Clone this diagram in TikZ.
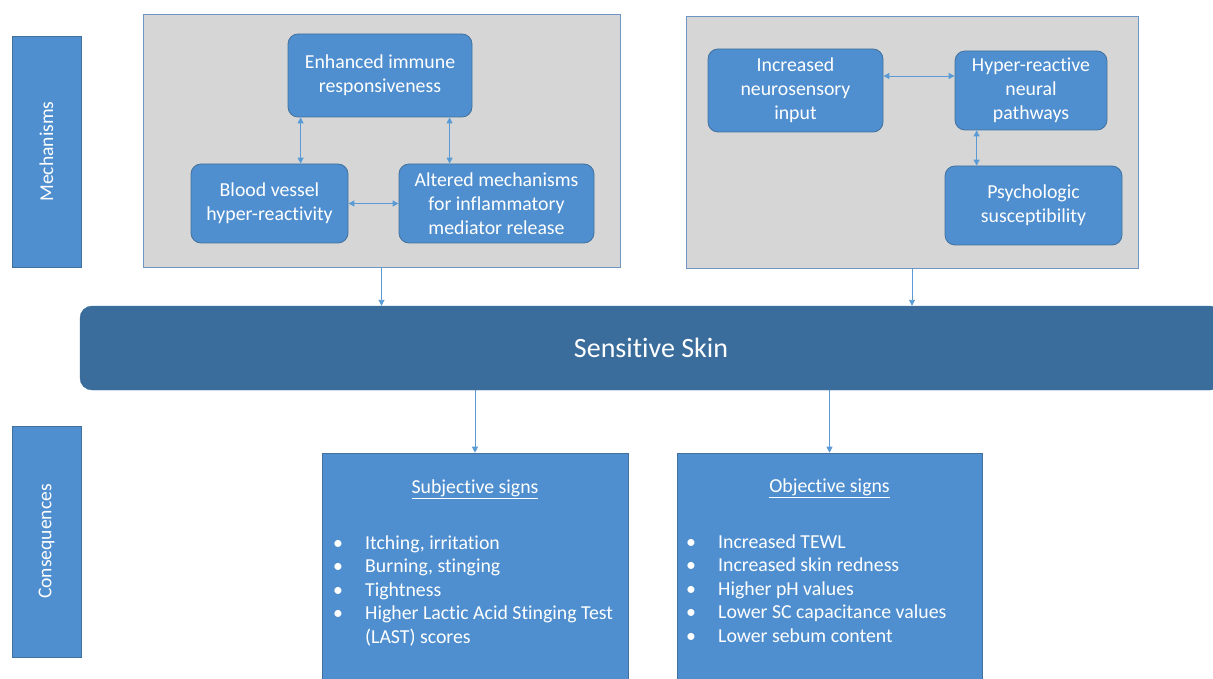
\documentclass[tikz,border=0pt]{standalone}
\usepackage{fontspec}
\setmainfont{Carlito}[Ligatures={NoCommon}]
\usetikzlibrary{arrows.meta,calc}
\definecolor{boxblue}{HTML}{4F8FCF}
\definecolor{boxedge}{HTML}{41719C}
\definecolor{darkblue}{HTML}{3A6C9C}
\definecolor{graybg}{HTML}{D6D6D6}
\definecolor{grayedge}{HTML}{6F95C3}
\definecolor{arrowc}{HTML}{5B9BD5}
\begin{document}
\begin{tikzpicture}[x=1pt,y=-1pt,
  innerbox/.style={draw=boxedge, fill=boxblue, rounded corners=10pt, text=white, align=center,
    font=\fontsize{19.8}{24}\selectfont, line width=0.8pt, inner sep=0pt},
  graybox/.style={draw=grayedge, fill=graybg, line width=0.8pt, inner sep=0pt},
  sidebar/.style={draw=boxedge, fill=boxblue, inner sep=0pt, line width=0.6pt, rotate=90,
    minimum width=231pt, minimum height=69pt, text=white, font=\fontsize{19.6}{22}\selectfont},
  signbox/.style={draw=boxedge, fill=boxblue, inner sep=0pt, line width=0.6pt,
    minimum width=306pt, minimum height=237pt},
  signtitle/.style={text=white, font=\fontsize{19.8}{22}\selectfont, inner sep=0pt},
  signlist/.style={text=white, font=\fontsize{19.8}{23.5}\selectfont, inner sep=0pt, align=left, anchor=base west},
  conn/.style={draw=arrowc, line width=0.9pt, -{Triangle[width=6pt,length=6pt]}},
  biconn/.style={draw=arrowc, line width=0.9pt, {Triangle[width=6pt,length=6pt]}-{Triangle[width=6pt,length=6pt]}}
]
\useasboundingbox (0,0) rectangle (1213,679);

% side bars
\node[sidebar] (mech) at (46.5,151.5) {Mechanisms};
\node[sidebar] (cons) at (46.5,541.5) {Consequences};

% gray containers
\node[graybox, minimum width=477pt, minimum height=253pt] (gb1) at (381.5,140.5) {};
\node[graybox, minimum width=452pt, minimum height=252pt] (gb2) at (912,142) {};

% inner boxes, left
\node[innerbox, minimum width=184pt, minimum height=83pt] (eir) at (380,75.5) {Enhanced immune\\responsiveness};
\node[innerbox, minimum width=157pt, minimum height=79pt] (bv) at (269.5,203.5) {Blood vessel\\hyper-reactivity};
\node[innerbox, minimum width=195pt, minimum height=79pt] (alt) at (496.5,203.5) {Altered mechanisms\\for inflammatory\\mediator release};

% inner boxes, right
\node[innerbox, minimum width=175pt, minimum height=83pt] (ins) at (795.5,90.5) {Increased\\neurosensory\\input};
\node[innerbox, minimum width=152pt, minimum height=79pt] (hrp) at (1031,90.5) {Hyper-reactive\\neural\\pathways};
\node[innerbox, minimum width=177pt, minimum height=79pt] (psy) at (1033.5,205.5) {Psychologic\\susceptibility};

% connectors inside containers
\draw[biconn] ([xshift=13pt]eir.south west) -- ([xshift=110pt]bv.north west);
\draw[biconn] ([xshift=162pt]eir.south west) -- ([xshift=51pt]alt.north west);
\draw[biconn] (bv) -- (alt);
\draw[biconn] ([yshift=14.5pt]ins.east) -- ([yshift=14.5pt]hrp.west);
\draw[biconn] ([xshift=22pt]hrp.south west) -- ([xshift=32pt]psy.north west);

% Sensitive Skin
\node[draw=darkblue, fill=darkblue, rounded corners=12pt, minimum width=1142pt, minimum height=84pt,
  text=white, font=\fontsize{28}{32}\selectfont, inner sep=0pt] (ss) at (651,348) {Sensitive Skin};

\draw[conn] (gb1.south) -- (gb1.south |- ss.north);
\draw[conn] (gb2.south) -- (gb2.south |- ss.north);

% consequence boxes
\node[signbox] (subj) at (475,571.5) {};
\node[signbox, minimum width=305pt] (obj) at (829.5,571.5) {};

\draw[conn] (subj.north |- ss.south) -- (subj.north);
\draw[conn] (obj.north |- ss.south) -- (obj.north);

\node[signtitle] (subjt) at (475,489) {\underline{Subjective signs}};
\node[signtitle] (objt) at (829.5,488) {\underline{Objective signs}};

\node[signlist] (subjl) at (333,643) {%
\makebox[32pt][l]{•}Itching, irritation\\
\makebox[32pt][l]{•}Burning, stinging\\
\makebox[32pt][l]{•}Tightness\\
\makebox[32pt][l]{•}Higher Lactic Acid Stinging Test\\
\hspace*{32pt}(LAST) scores};
\node[signlist] (objl) at (686,642) {%
\makebox[32pt][l]{•}Increased TEWL\\
\makebox[32pt][l]{•}Increased skin redness\\
\makebox[32pt][l]{•}Higher pH values\\
\makebox[32pt][l]{•}Lower SC capacitance values\\
\makebox[32pt][l]{•}Lower sebum content};
\end{tikzpicture}
\end{document}
